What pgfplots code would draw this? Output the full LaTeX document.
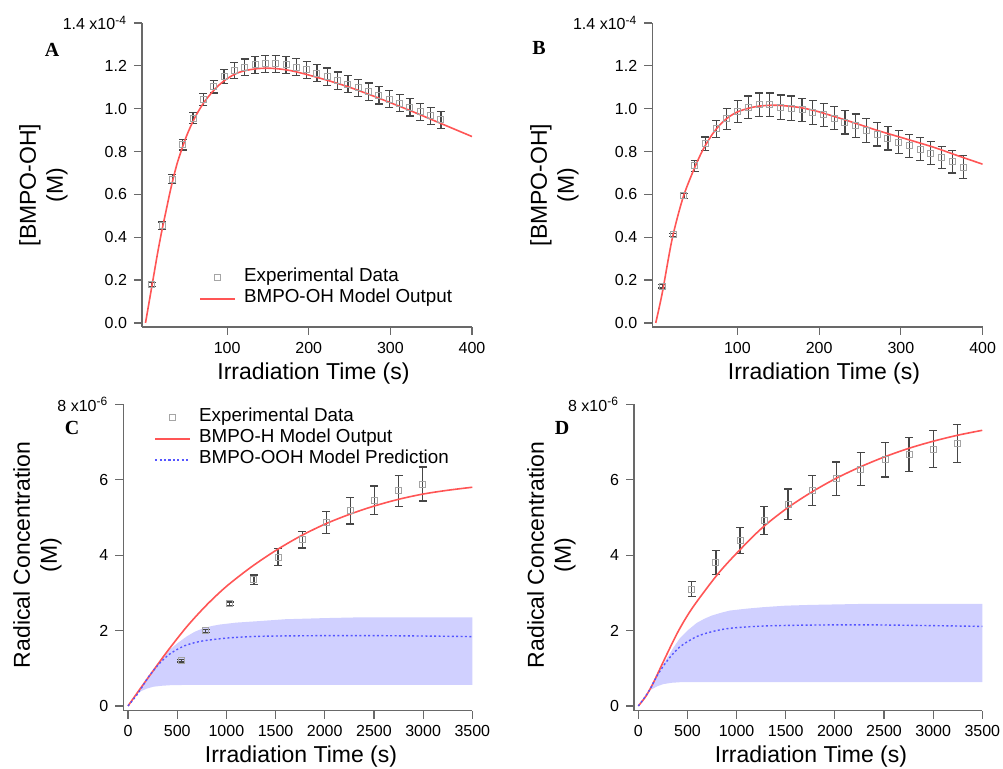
\documentclass[border=0pt]{standalone}
\usepackage{fontspec}
\setmainfont{Liberation Sans}
\newfontfamily\timesfont{Liberation Serif}
\usepackage{pgfplots}
\pgfplotsset{compat=1.18}

\definecolor{axgray}{RGB}{105,105,105}
\definecolor{errgray}{RGB}{70,70,70}
\definecolor{mkgray}{RGB}{165,165,165}
\definecolor{modelred}{RGB}{255,85,85}
\definecolor{predblue}{RGB}{85,85,255}
\definecolor{bandblue}{RGB}{208,208,255}

\pgfplotsset{
  panel/.style={
    scale only axis,
    axis x line=bottom, axis y line=left,
    axis line style={-, draw=axgray, line width=0.6pt},
    tick style={draw=axgray, line width=0.6pt},
    tick align=outside, major tick length=4pt,
    ticklabel style={font=\fontsize{8}{9.6}\selectfont},
    /pgf/number format/assume math mode=true,
    /pgf/number format/1000 sep={},
    legend style={draw=none, fill=none, font=\fontsize{9.4}{10.5}\selectfont,
      nodes={inner sep=0pt, text height=7.3pt, text depth=3.2pt},
      column sep=4.5pt},
    legend cell align=left,
  },
  expdata/.style={
    only marks, mark=square, mark size=1.5pt,
    mark options={draw=mkgray, line width=0.5pt},
    error bars/.cd, y dir=both, y explicit,
    error bar style={draw=errgray, line width=0.6pt},
    error mark options={rotate=90, mark size=2pt, draw=errgray, line width=0.6pt},
  },
  model/.style={color=modelred, line width=0.8pt, smooth, no marks},
  pred/.style={color=predblue, line width=0.7pt, dash pattern=on 1pt off 1.2pt, smooth, no marks},
  band/.style={fill=bandblue, draw=none, no marks, forget plot},
}

\begin{document}
\begin{tikzpicture}

% ---------------- A ----------------
\begin{axis}[panel, at={(71pt,221pt)}, anchor=south west,
  width=165pt, height=152pt,
  xmin=-4.3, xmax=400, ymin=-0.019, ymax=1.4,
  xtick={100,200,300,400},
  ytick={0,0.2,0.4,0.6,0.8,1.0,1.2,1.4},
  yticklabels={0.0,0.2,0.4,0.6,0.8,1.0,1.2,{1.4 x10\textsuperscript{-4}}},
  legend style={at={(0.1545,0.2105)}, anchor=north west}]
\addplot[expdata] table[x=t, y=c, y error=e] {
t      c      e
7.7    0.180  0.010
20.35  0.453  0.018
33.0   0.671  0.022
45.65  0.831  0.024
58.3   0.955  0.026
70.95  1.044  0.028
83.6   1.103  0.030
96.25  1.150  0.032
108.9  1.178  0.036
121.55 1.194  0.038
134.2  1.205  0.040
146.85 1.210  0.040
159.5  1.210  0.040
172.15 1.205  0.040
184.8  1.194  0.040
197.45 1.181  0.040
210.1  1.166  0.040
222.75 1.150  0.040
235.4  1.131  0.040
248.05 1.115  0.040
260.7  1.098  0.040
273.35 1.080  0.040
286.0  1.062  0.040
298.65 1.045  0.040
311.3  1.026  0.040
323.95 1.006  0.040
336.6  0.986  0.040
349.25 0.967  0.040
361.9  0.948  0.040
};
\addlegendentry{Experimental Data}
\addplot[model] table[x=t, y=c] {
t    c
0    0
5    0.11
10   0.22
15   0.33
20   0.43
25   0.52
30   0.61
35   0.69
40   0.76
50   0.87
60   0.955
70   1.02
80   1.07
90   1.11
100  1.14
110  1.162
120  1.176
135  1.186
150  1.189
165  1.185
180  1.176
200  1.157
225  1.130
250  1.100
275  1.065
300  1.028
325  0.990
350  0.950
375  0.910
400  0.870
};
\addlegendentry{BMPO-OH Model Output}
\end{axis}

% ---------------- B ----------------
\begin{axis}[panel, at={(326.15pt,221pt)}, anchor=south west,
  width=165.15pt, height=152pt,
  xmin=-4.2, xmax=400, ymin=-0.019, ymax=1.4,
  xtick={100,200,300,400},
  ytick={0,0.2,0.4,0.6,0.8,1.0,1.2,1.4},
  yticklabels={0.0,0.2,0.4,0.6,0.8,1.0,1.2,{1.4 x10\textsuperscript{-4}}}]
\addplot[expdata] table[x=t, y=c, y error=e] {
t      c      e
8.2    0.171  0.008
21.3   0.411  0.008
34.5   0.593  0.012
47.6   0.733  0.025
60.8   0.836  0.032
73.9   0.906  0.040
87.0   0.952  0.048
100.2  0.987  0.050
113.3  1.007  0.052
126.5  1.018  0.055
139.6  1.018  0.055
152.7  1.007  0.057
165.9  1.002  0.057
179.0  0.994  0.055
192.2  0.982  0.055
205.3  0.971  0.055
218.5  0.956  0.055
231.6  0.937  0.055
244.7  0.920  0.055
257.9  0.898  0.055
271.0  0.881  0.055
284.2  0.862  0.055
297.3  0.844  0.055
310.5  0.826  0.055
323.6  0.811  0.053
336.7  0.792  0.053
349.9  0.772  0.053
363.0  0.753  0.053
376.2  0.727  0.053
};
\addplot[model] table[x=t, y=c] {
t    c
0    0
8    0.14
20   0.39
33   0.58
46   0.71
58   0.81
71   0.89
84   0.945
100  0.985
123  1.010
148  1.016
177  1.005
200  0.985
238  0.940
270  0.900
300  0.866
340  0.820
370  0.780
400  0.741
};
\end{axis}

% ---------------- C ----------------
\begin{axis}[panel, at={(61.65pt,29.15pt)}, anchor=south west,
  width=174.5pt, height=153.2pt,
  xmin=-48, xmax=3500, ymin=-0.125, ymax=8,
  xtick={0,500,1000,1500,2000,2500,3000,3500},
  ytick={0,2,4,6,8},
  yticklabels={0,2,4,6,{8 x10\textsuperscript{-6}}},
  legend style={at={(0.0708,1.0045)}, anchor=north west}]
% prediction range: upper edge, then lower edge back to 0
\addplot[band] table[x=t, y=c] {
t     c
0     0
50    0.17
100   0.36
150   0.55
200   0.75
250   0.93
300   1.10
360   1.30
427   1.50
500   1.66
600   1.85
680   1.97
765   2.06
850   2.12
935   2.16
1100  2.21
1273  2.24
1600  2.30
2000  2.33
2358  2.35
3500  2.35
3500  0.56
1000  0.56
700   0.56
500   0.555
427   0.55
340   0.535
258   0.51
190   0.46
122   0.38
80    0.29
50    0.20
25    0.11
0     0
};
\addplot[expdata] table[x=t, y=c, y error=e] {
t     c      e
540   1.195  0.03
790   1.990  0.04
1035  2.708  0.05
1280  3.345  0.13
1525  3.947  0.22
1770  4.407  0.22
2015  4.867  0.29
2260  5.177  0.35
2505  5.451  0.38
2750  5.708  0.41
2995  5.885  0.45
};
\addlegendentry{Experimental Data}
\addplot[model] table[x=t, y=c] {
t     c
0     0
100   0.37
224   0.82
400   1.45
600   2.11
800   2.68
1000  3.17
1250  3.68
1500  4.12
1750  4.50
2000  4.82
2250  5.08
2500  5.30
2750  5.48
3000  5.62
3250  5.72
3500  5.80
};
\addlegendentry{BMPO-H Model Output}
\addplot[pred] table[x=t, y=c] {
t     c
0     0
100   0.33
200   0.74
300   1.07
400   1.33
500   1.50
600   1.62
750   1.72
1000  1.80
1250  1.84
1500  1.855
2000  1.865
2500  1.865
3000  1.855
3500  1.84
};
\addlegendentry{BMPO-OOH Model Prediction}
\end{axis}

% ---------------- D ----------------
\begin{axis}[panel, at={(317pt,29.15pt)}, anchor=south west,
  width=174.15pt, height=153.2pt,
  xmin=-44, xmax=3500, ymin=-0.125, ymax=8,
  xtick={0,500,1000,1500,2000,2500,3000,3500},
  ytick={0,2,4,6,8},
  yticklabels={0,2,4,6,{8 x10\textsuperscript{-6}}}]
\addplot[band] table[x=t, y=c] {
t     c
0     0
50    0.17
100   0.37
150   0.61
200   0.86
250   1.09
300   1.30
360   1.56
424   1.80
500   2.00
593   2.20
670   2.31
750   2.40
840   2.47
932   2.53
1100  2.58
1271  2.62
1500  2.66
1750  2.68
2357  2.71
3500  2.71
3500  0.63
700   0.63
424   0.63
340   0.615
254   0.58
190   0.52
122   0.42
80    0.32
50    0.20
25    0.10
0     0
};
\addplot[expdata] table[x=t, y=c, y error=e] {
t     c      e
543   3.097  0.20
790   3.805  0.31
1035  4.389  0.35
1279  4.920  0.38
1523  5.354  0.40
1771  5.708  0.40
2015  6.027  0.44
2263  6.283  0.44
2511  6.531  0.46
2755  6.664  0.45
3002  6.814  0.50
3246  6.956  0.50
};
\addplot[model] table[x=t, y=c] {
t     c
0     0
75    0.25
150   0.60
250   1.15
400   1.95
550   2.60
800   3.47
1000  4.05
1250  4.70
1500  5.22
1750  5.65
2000  6.02
2250  6.33
2500  6.60
2750  6.83
3000  7.02
3250  7.18
3500  7.31
};
\addplot[pred] table[x=t, y=c] {
t     c
0     0
100   0.36
200   0.84
300   1.22
424   1.57
593   1.84
750   1.97
932   2.06
1271  2.12
1750  2.145
2357  2.15
3000  2.13
3500  2.11
};
\end{axis}

% ---------------- labels ----------------
\tikzset{axlab/.style={font=\fontsize{11.5}{13.5}\selectfont, align=center, inner sep=0pt}}
\node[axlab, anchor=base] at (156.75pt,194.5pt) {Irradiation Time (s)};
\node[axlab, anchor=base] at (412pt,194.5pt) {Irradiation Time (s)};
\node[axlab, anchor=base] at (150.5pt,3pt) {Irradiation Time (s)};
\node[axlab, anchor=base] at (405.5pt,3pt) {Irradiation Time (s)};
\node[axlab, rotate=90] at (21.75pt,292pt) {[BMPO-OH]\\(M)};
\node[axlab, rotate=90] at (277.25pt,292pt) {[BMPO-OH]\\(M)};
\node[axlab, rotate=90] at (18.75pt,107pt) {Radical Concentration\\(M)};
\node[axlab, rotate=90] at (275.75pt,107pt) {Radical Concentration\\(M)};
\tikzset{plab/.style={font=\timesfont\bfseries\fontsize{10}{12}\selectfont, inner sep=0pt}}
\node[plab] at (26pt,359.5pt) {A};
\node[plab] at (269.5pt,360.5pt) {B};
\node[plab] at (36pt,170.5pt) {C};
\node[plab] at (281pt,170.5pt) {D};

\pgfresetboundingbox
\useasboundingbox (0,0) rectangle (501.5pt,384.5pt);
\end{tikzpicture}
\end{document}
